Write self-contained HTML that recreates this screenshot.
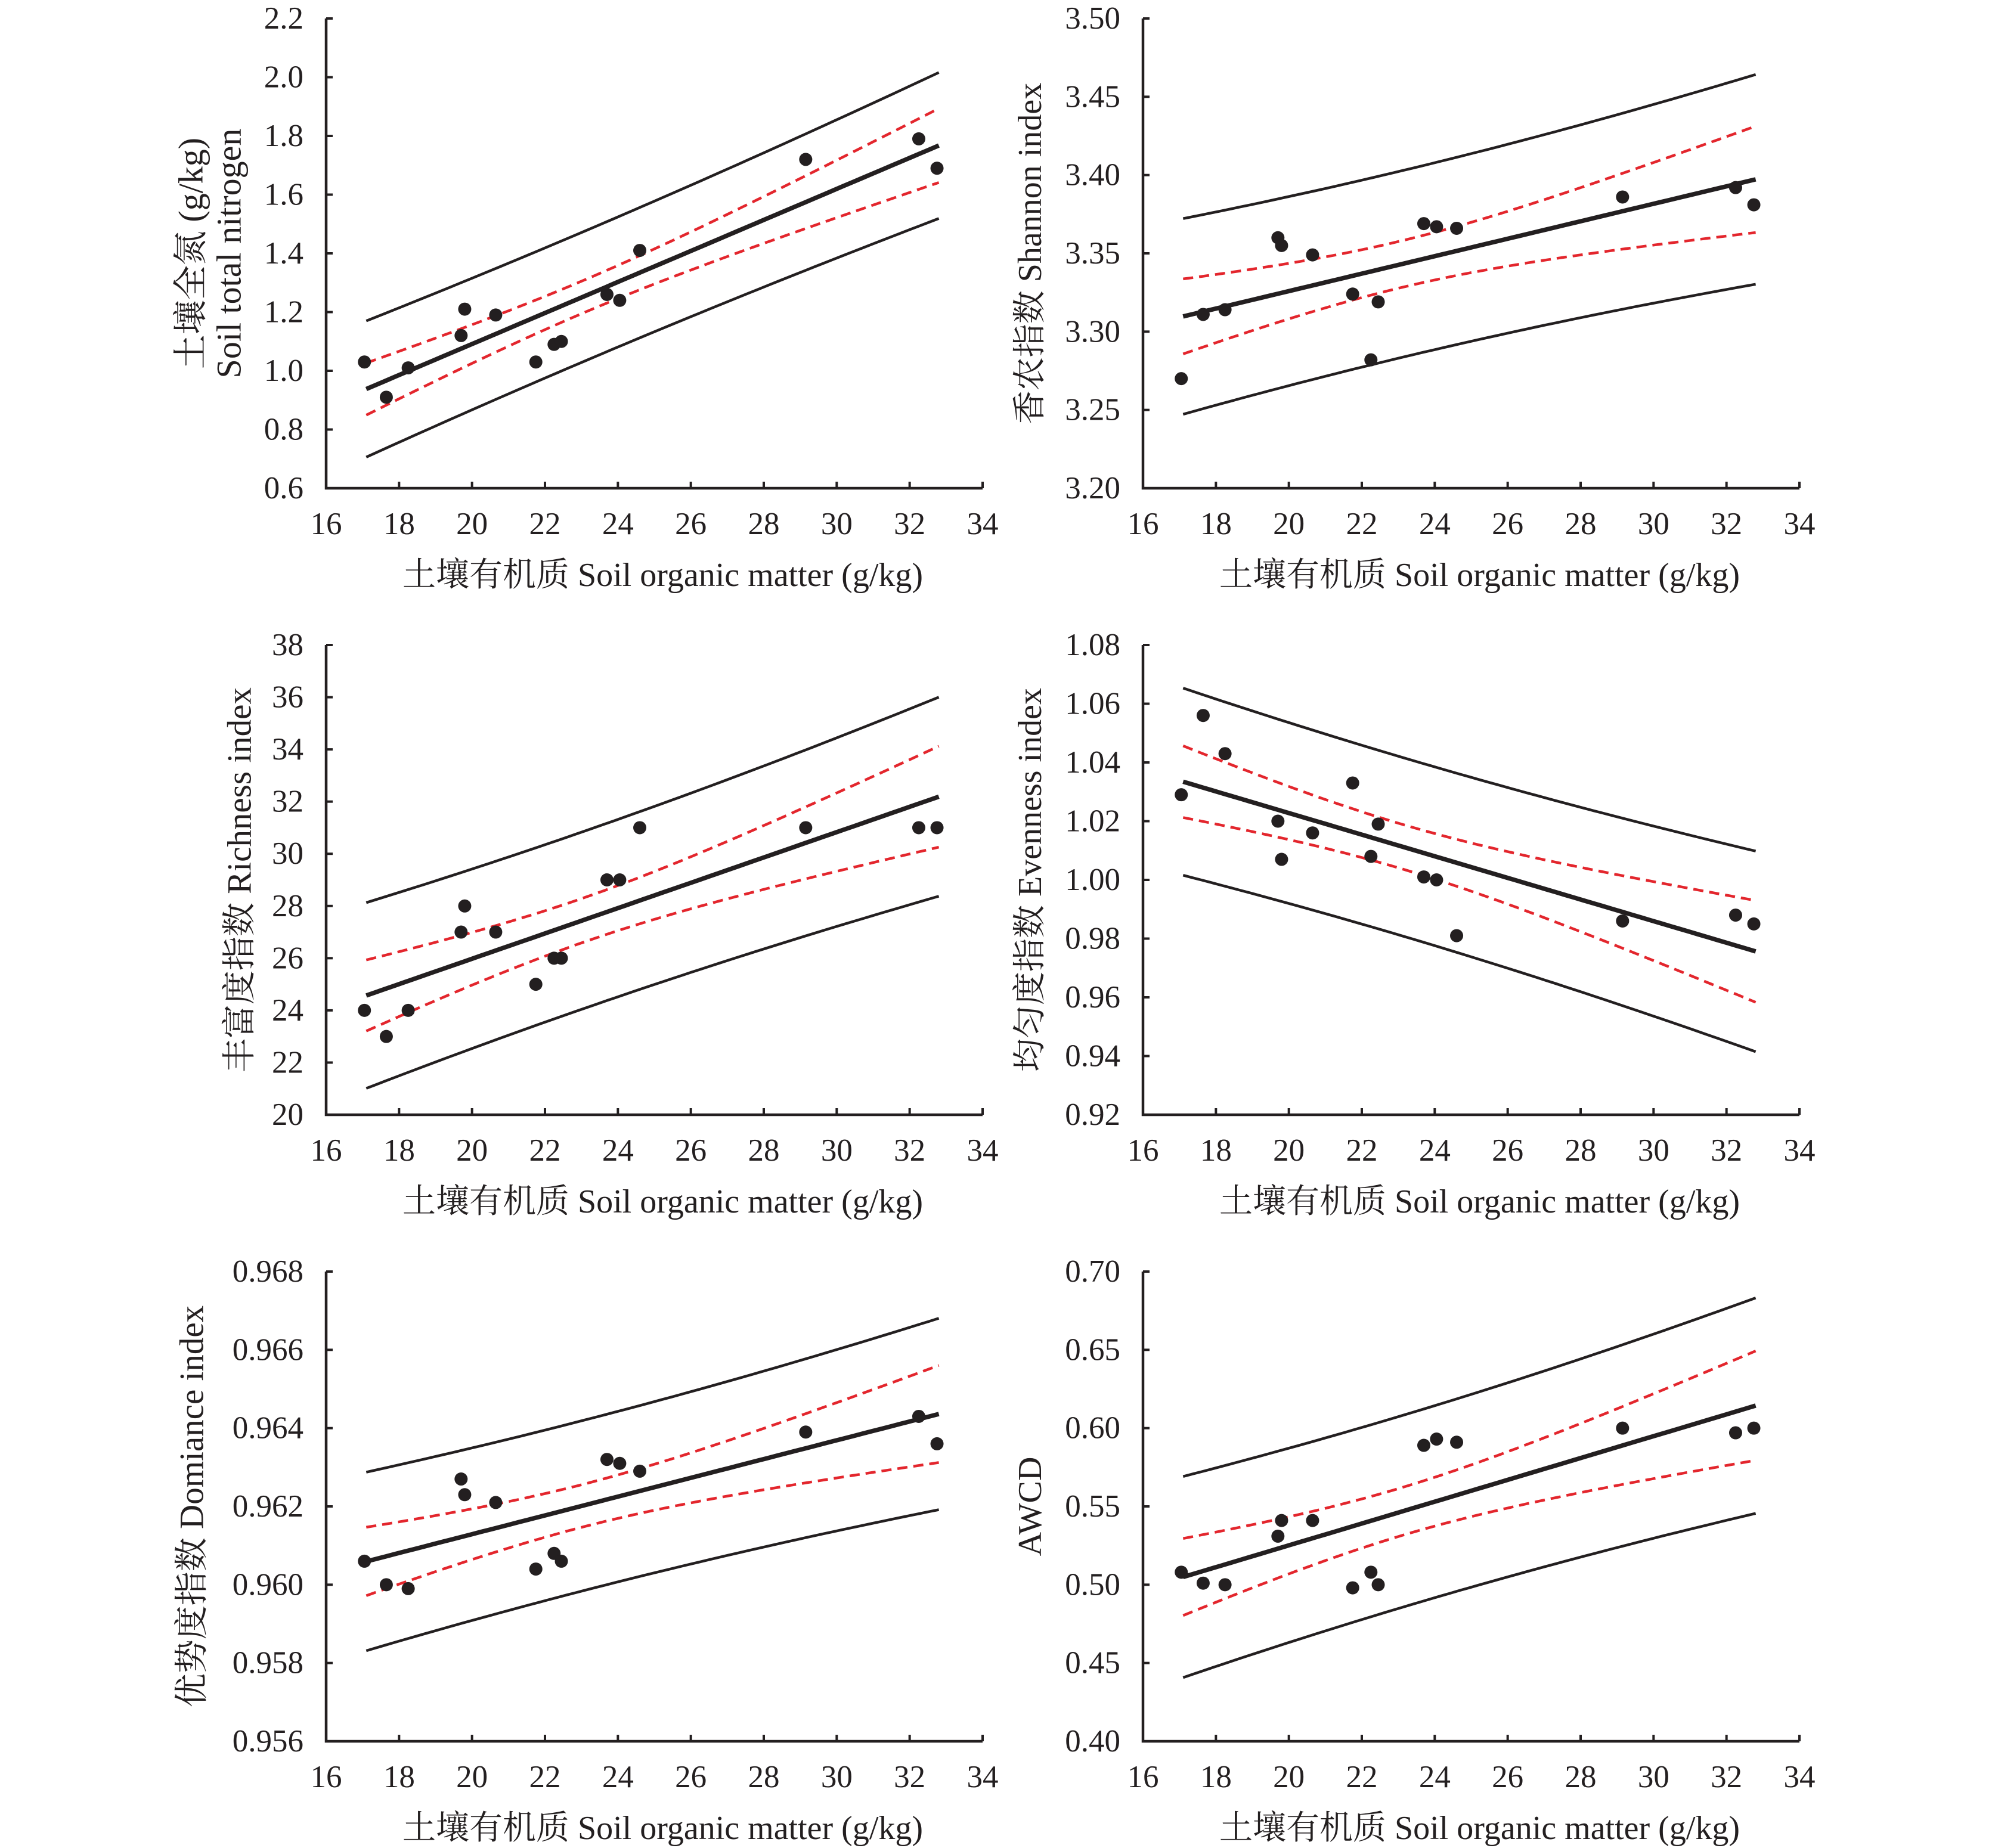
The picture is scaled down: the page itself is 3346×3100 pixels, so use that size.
<!DOCTYPE html>
<html><head><meta charset="utf-8">
<style>
html,body{margin:0;padding:0;background:#fff;}
svg{display:block;}
text{font-family:"Liberation Serif","Noto Serif CJK SC",serif;fill:#231f20;}
</style></head>
<body>
<svg id="fig" width="3346" height="3100" viewBox="0 0 3346 3100" xmlns="http://www.w3.org/2000/svg"></svg>
<script>
// shared x data: soil organic matter (g/kg)
const somValues = [17.05,17.65,18.25,19.7,19.8,20.65,21.75,22.25,22.45,23.7,24.05,24.6,29.15,32.25,32.75];
const xTicks = [16,18,20,22,24,26,28,30,32,34];
const xTickLabels = ["16","18","20","22","24","26","28","30","32","34"];

const nitrogenValues = [1.03,0.91,1.01,1.12,1.21,1.19,1.03,1.09,1.10,1.26,1.24,1.41,1.72,1.79,1.69];
const nitrogenTicks = [0.6,0.8,1.0,1.2,1.4,1.6,1.8,2.0,2.2];
const nitrogenTickLabels = ["0.6","0.8","1.0","1.2","1.4","1.6","1.8","2.0","2.2"];

const shannonValues = [3.270,3.311,3.314,3.360,3.355,3.349,3.324,3.282,3.319,3.369,3.367,3.366,3.386,3.392,3.381];
const shannonTicks = [3.20,3.25,3.30,3.35,3.40,3.45,3.50];
const shannonTickLabels = ["3.20","3.25","3.30","3.35","3.40","3.45","3.50"];

const richnessValues = [24,23,24,27,28,27,25,26,26,29,29,31,31,31,31];
const richnessTicks = [20,22,24,26,28,30,32,34,36,38];
const richnessTickLabels = ["20","22","24","26","28","30","32","34","36","38"];

const evennessValues = [1.029,1.056,1.043,1.020,1.007,1.016,1.033,1.008,1.019,1.001,1.000,0.981,0.986,0.988,0.985];
const evennessTicks = [0.92,0.94,0.96,0.98,1.00,1.02,1.04,1.06,1.08];
const evennessTickLabels = ["0.92","0.94","0.96","0.98","1.00","1.02","1.04","1.06","1.08"];

const dominanceValues = [0.9606,0.9600,0.9599,0.9627,0.9623,0.9621,0.9604,0.9608,0.9606,0.9632,0.9631,0.9629,0.9639,0.9643,0.9636];
const dominanceTicks = [0.956,0.958,0.960,0.962,0.964,0.966,0.968];
const dominanceTickLabels = ["0.956","0.958","0.960","0.962","0.964","0.966","0.968"];

const awcdValues = [0.508,0.501,0.500,0.531,0.541,0.541,0.498,0.508,0.500,0.589,0.593,0.591,0.600,0.597,0.600];
const awcdTicks = [0.40,0.45,0.50,0.55,0.60,0.65,0.70];
const awcdTickLabels = ["0.40","0.45","0.50","0.55","0.60","0.65","0.70"];

const NS="http://www.w3.org/2000/svg";
const svg=document.getElementById('fig');
function mk(tag,attrs,parent){const e=document.createElementNS(NS,tag);for(const k in attrs)e.setAttribute(k,attrs[k]);(parent||svg).appendChild(e);return e;}

const panels=[
 {name:'nitrogen',ys:nitrogenValues,ticks:nitrogenTicks,labels:nitrogenTickLabels,col:0,row:0,fs:58,titles:[["土壤全氮 (g/kg)",320],["Soil total nitrogen",384]]},
 {name:'shannon',ys:shannonValues,ticks:shannonTicks,labels:shannonTickLabels,col:1,row:0,fs:56,titles:[["香农指数 Shannon index",1728]]},
 {name:'richness',ys:richnessValues,ticks:richnessTicks,labels:richnessTickLabels,col:0,row:1,fs:57,titles:[["丰富度指数 Richness index",402]]},
 {name:'evenness',ys:evennessValues,ticks:evennessTicks,labels:evennessTickLabels,col:1,row:1,fs:56,titles:[["均匀度指数 Evenness index",1728]]},
 {name:'dominance',ys:dominanceValues,ticks:dominanceTicks,labels:dominanceTickLabels,col:0,row:2,fs:57,titles:[["优势度指数 Domiance index",322]]},
 {name:'awcd',ys:awcdValues,ticks:awcdTicks,labels:awcdTickLabels,col:1,row:2,fs:56,titles:[["AWCD",1728]]}
];

panels.forEach(p=>{
  const L=p.col===0?547:1917, R=L+1101;
  const B=[819,1870,2921][p.row], T=B-788;
  const xmin=16,xmax=34,ymin=p.ticks[0],ymax=p.ticks[p.ticks.length-1];
  const X=v=>L+(v-xmin)/(xmax-xmin)*(R-L);
  const Y=v=>B-(v-ymin)/(ymax-ymin)*(B-T);
  const g=mk('g',{});
  
  

  // regression
  const xs=somValues, ys=p.ys, n=xs.length;
  const mx=xs.reduce((a,b)=>a+b)/n, my=ys.reduce((a,b)=>a+b)/n;
  let sxx=0,sxy=0;xs.forEach((x,i)=>{sxx+=(x-mx)**2;sxy+=(x-mx)*(ys[i]-my);});
  const b=sxy/sxx,a=my-b*mx;
  let sse=0;xs.forEach((x,i)=>{sse+=(ys[i]-a-b*x)**2;});
  const s=Math.sqrt(sse/(n-2)), t=2.16;
  const x0=17.1,x1=32.8;
  function curve(fn){let d='';for(let k=0;k<=60;k++){const x=x0+(x1-x0)*k/60;d+=(k?'L':'M')+X(x).toFixed(1)+' '+Y(fn(x)).toFixed(1);}return d;}
  const ci=x=>t*s*Math.sqrt(1/n+(x-mx)**2/sxx);
  const pi=x=>t*s*Math.sqrt(1+1/n+(x-mx)**2/sxx);
  const lines=[
    ['prediction-upper',x=>a+b*x+pi(x),'#231f20',4.5,null],
    ['prediction-lower',x=>a+b*x-pi(x),'#231f20',4.5,null],
    ['confidence-upper',x=>a+b*x+ci(x),'#e3262d',4.5,'17 10'],
    ['confidence-lower',x=>a+b*x-ci(x),'#e3262d',4.5,'17 10'],
    ['fit-line',x=>a+b*x,'#231f20',7.5,null]];
  lines.forEach(l=>{
    const e=mk('path',{d:curve(l[1]),fill:'none',stroke:l[2],'stroke-width':l[3]},g);
    if(l[4])e.setAttribute('stroke-dasharray',l[4]);
    
    
  });
  xs.forEach((x,i)=>{
    const c=mk('circle',{cx:X(x),cy:Y(ys[i]),r:11,fill:'#231f20'},g);
    
    
  });
  // axes
  const ax=mk('path',{d:`M${L} ${T}V${B}H${R}`,fill:'none',stroke:'#231f20','stroke-width':4.5},g);
  
  
  p.ticks.forEach((v,i)=>{
    mk('line',{x1:L,x2:L+11,y1:Y(v),y2:Y(v),stroke:'#231f20','stroke-width':4},g);
    const tx=mk('text',{x:L-38,y:Y(v),'text-anchor':'end','dominant-baseline':'central','font-size':53},g);
    tx.textContent=p.labels[i];
    
    
  });
  xTicks.forEach((v,i)=>{
    mk('line',{x1:X(v),x2:X(v),y1:B,y2:B-11,stroke:'#231f20','stroke-width':4},g);
    const tx=mk('text',{x:X(v),y:B+60,'text-anchor':'middle','dominant-baseline':'central','font-size':53},g);
    tx.textContent=xTickLabels[i];
    
    
  });
  const xt=mk('text',{x:(L+R)/2+14,y:B+146,'text-anchor':'middle','dominant-baseline':'central','font-size':56},g);
  xt.textContent='土壤有机质 Soil organic matter (g/kg)';
  
  
  p.titles.forEach(tt=>{
    const cy=(T+B)/2;
    const yt=mk('text',{x:tt[1],y:cy,'text-anchor':'middle','dominant-baseline':'central','font-size':p.fs,transform:`rotate(-90 ${tt[1]} ${cy})`},g);
    yt.textContent=tt[0];
    
    
  });
});
</script>
</body></html>
